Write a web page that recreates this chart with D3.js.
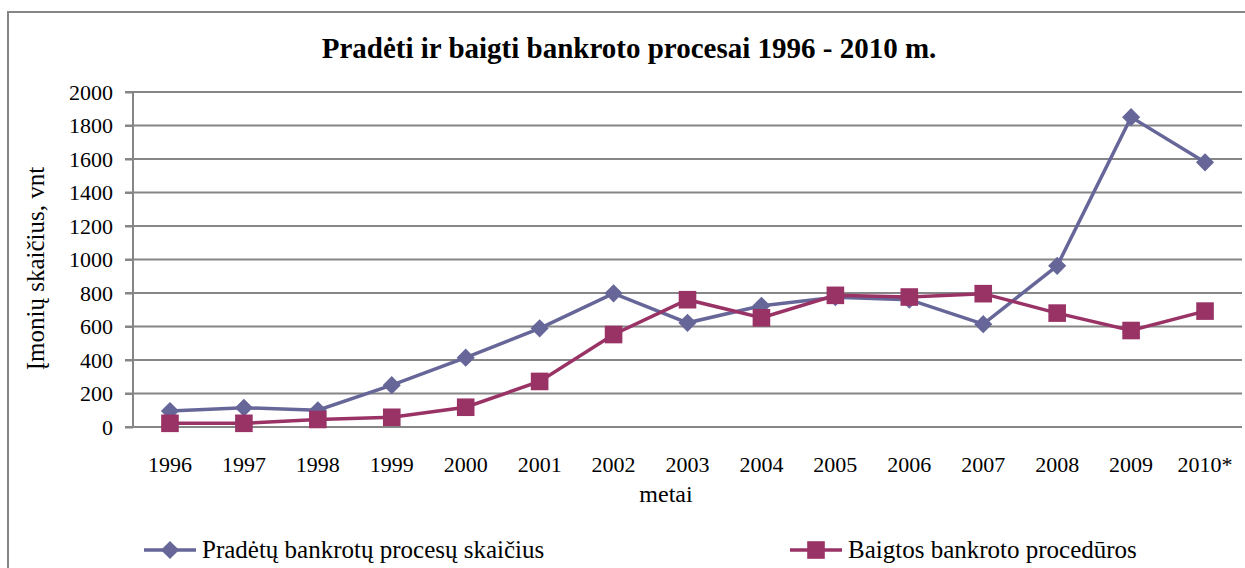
<!DOCTYPE html>
<html>
<head>
<meta charset="utf-8">
<script src="https://cdn.jsdelivr.net/npm/d3@7"></script>
<style>
  body { margin: 0; background: #fff; }
</style>
</head>
<body>
<svg id="chart"></svg>
<script>
const years = ['1996', '1997', '1998', '1999', '2000', '2001', '2002', '2003', '2004', '2005', '2006', '2007', '2008', '2009', '2010*'];
const started = [95, 115, 100, 250, 414, 589, 798, 622, 724, 775, 760, 614, 962, 1850, 1580];
const finished = [22, 22, 45, 58, 118, 272, 552, 760, 652, 786, 776, 796, 680, 576, 692];
const yTicks = [0, 200, 400, 600, 800, 1000, 1200, 1400, 1600, 1800, 2000];

const size = {w: 1245, h: 568};
const plot = {l: 133, r: 1242, t: 92, b: 427};
const blue = '#666699';
const red = '#993366';
const grey = '#868686';
const font = 'Liberation Serif';

const svg = d3.select('svg#chart')
    .attr('width', size.w)
    .attr('height', size.h)
    .attr('font-family', font);

// outer frame
svg.append('rect')
    .attr('x', 8).attr('y', 12)
    .attr('width', 1250).attr('height', 580)
    .attr('fill', 'none')
    .attr('stroke', grey)
    .attr('stroke-width', 2);

svg.append('text')
    .attr('x', 629).attr('y', 58)
    .attr('text-anchor', 'middle')
    .attr('font-family', font)
    .attr('font-size', 29)
    .attr('font-weight', 'bold')
    .text('Pradėti ir baigti bankroto procesai 1996 - 2010 m.');

const x = d3.scaleBand().domain(years).range([plot.l, plot.r]);
const y = d3.scaleLinear().domain([0, 2000]).range([plot.b, plot.t]);

// gridlines
svg.append('g')
    .selectAll('line')
    .data(yTicks)
    .join('line')
    .attr('x1', plot.l - 8).attr('x2', plot.r)
    .attr('y1', d => y(d)).attr('y2', d => y(d))
    .attr('stroke', grey)
    .attr('stroke-width', 2);

// y axis
const yAxis = svg.append('g')
    .attr('transform', `translate(${plot.l}, 0)`)
    .call(d3.axisLeft(y).tickValues(yTicks).tickSize(8).tickFormat(d3.format('d')))
    .attr('font-family', font)
    .attr('font-size', 22);
yAxis.select('.domain').attr('stroke', grey).attr('stroke-width', 2).attr('d', `M0,${plot.t}V${plot.b}`);
yAxis.selectAll('.tick line').attr('stroke', grey).attr('stroke-width', 2);
yAxis.selectAll('.tick text')
    .attr('x', -20)
    .attr('fill', '#000');

// x axis
const xAxis = svg.append('g')
    .attr('transform', `translate(0, ${plot.b})`)
    .call(d3.axisBottom(x).tickSize(0))
    .attr('font-family', font)
    .attr('font-size', 22);
xAxis.select('.domain').remove();
xAxis.selectAll('.tick text')
    .attr('y', 45)
    .attr('dy', null)
    .attr('fill', '#000');

svg.append('text')
    .attr('x', 666).attr('y', 502)
    .attr('text-anchor', 'middle')
    .attr('font-size', 24)
    .text('metai');

svg.append('text')
    .attr('transform', `translate(44, ${(plot.t + plot.b) / 2 + 9}) rotate(-90)`)
    .attr('text-anchor', 'middle')
    .attr('font-size', 25)
    .text('Įmonių skaičius, vnt');

const line = d3.line()
    .x((d, i) => x(years[i]) + x.bandwidth() / 2)
    .y(d => y(d));

const series = [
    {name: 'Pradėtų bankrotų procesų skaičius', values: started, color: blue, symbol: d3.symbolDiamond2, size: 210},
    {name: 'Baigtos bankroto procedūros', values: finished, color: red, symbol: d3.symbolSquare, size: 310}
];

series.forEach(s => {
    const g = svg.append('g');
    g.append('path')
        .attr('d', line(s.values))
        .attr('fill', 'none')
        .attr('stroke', s.color)
        .attr('stroke-width', 3.5);
    g.selectAll('path.marker')
        .data(s.values)
        .join('path')
        .classed('marker', true)
        .attr('transform', (d, i) => `translate(${x(years[i]) + x.bandwidth() / 2}, ${y(d)})`)
        .attr('d', d3.symbol().type(s.symbol).size(s.size))
        .attr('fill', s.color);
});

// legend
const legendX = [144, 790];
const legend = svg.append('g')
    .selectAll('g')
    .data(series)
    .join('g')
    .attr('transform', (d, i) => `translate(${legendX[i]}, 550)`);
legend.append('line')
    .attr('x1', 0).attr('x2', 52)
    .attr('stroke', d => d.color)
    .attr('stroke-width', 3.5);
legend.append('path')
    .attr('transform', 'translate(26, 0)')
    .attr('d', d => d3.symbol().type(d.symbol).size(d.size)())
    .attr('fill', d => d.color);
legend.append('text')
    .attr('x', 58).attr('y', 8)
    .attr('font-size', 25)
    .text(d => d.name);
</script>
</body>
</html>
